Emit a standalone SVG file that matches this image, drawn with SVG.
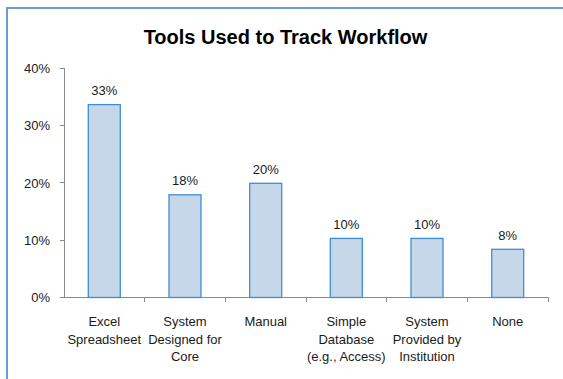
<svg xmlns="http://www.w3.org/2000/svg" width="563" height="379" viewBox="0 0 563 379">
<style>
.t{font-family:"Liberation Sans",Arial,sans-serif;font-size:13px;fill:#1a1a1a}
.title{font-family:"Liberation Sans",Arial,sans-serif;font-size:20px;font-weight:bold;fill:#000}
.bar{fill:#c5d7e9;stroke:#3c8fd4;stroke-width:1.3}
.ax{stroke:#8a8a8a;stroke-width:1;fill:none}
</style>
<rect width="563" height="379" fill="#fff"/>
<path d="M7 379 V8 H563" fill="none" stroke="#6a9cce" stroke-width="2"/>
<text class="title" x="285.5" y="43.5" text-anchor="middle">Tools Used to Track Workflow</text>
<g id="axes">
<path class="ax" d="M64.5 68 V297.5 M64 297.5 H548.5 M60 68.5 H64.5 M60 125.5 H64.5 M60 182.5 H64.5 M60 240.5 H64.5 M60 297.5 H64.5 M144.5 297.5 V302 M225.5 297.5 V302 M306.5 297.5 V302 M386.5 297.5 V302 M467.5 297.5 V302 M548.5 297.5 V302"/>
<text class="t" x="50" y="73" text-anchor="end">40%</text>
<text class="t" x="50" y="130" text-anchor="end">30%</text>
<text class="t" x="50" y="187.5" text-anchor="end">20%</text>
<text class="t" x="50" y="245" text-anchor="end">10%</text>
<text class="t" x="50" y="302" text-anchor="end">0%</text>
</g>
<g id="bar-excel">
<rect class="bar" x="88.3" y="104.6" width="32" height="192.9"/>
<text class="t" x="104.3" y="95" text-anchor="middle">33%</text>
<text class="t" x="104.3" y="326" text-anchor="middle">Excel</text>
<text class="t" x="104.3" y="343.5" text-anchor="middle">Spreadsheet</text>
</g>
<g id="bar-system-core">
<rect class="bar" x="169" y="194.8" width="32" height="102.7"/>
<text class="t" x="185" y="185" text-anchor="middle">18%</text>
<text class="t" x="185" y="326" text-anchor="middle">System</text>
<text class="t" x="185" y="343.5" text-anchor="middle">Designed for</text>
<text class="t" x="185" y="361" text-anchor="middle">Core</text>
</g>
<g id="bar-manual">
<rect class="bar" x="249.7" y="183.3" width="32" height="114.2"/>
<text class="t" x="265.7" y="173.5" text-anchor="middle">20%</text>
<text class="t" x="265.7" y="326" text-anchor="middle">Manual</text>
</g>
<g id="bar-simple-db">
<rect class="bar" x="330.3" y="238.4" width="32" height="59.1"/>
<text class="t" x="346.3" y="229" text-anchor="middle">10%</text>
<text class="t" x="346.3" y="326" text-anchor="middle">Simple</text>
<text class="t" x="346.3" y="343.5" text-anchor="middle">Database</text>
<text class="t" x="346.3" y="361" text-anchor="middle">(e.g., Access)</text>
</g>
<g id="bar-system-institution">
<rect class="bar" x="411" y="238.4" width="32" height="59.1"/>
<text class="t" x="427" y="229" text-anchor="middle">10%</text>
<text class="t" x="427" y="326" text-anchor="middle">System</text>
<text class="t" x="427" y="343.5" text-anchor="middle">Provided by</text>
<text class="t" x="427" y="361" text-anchor="middle">Institution</text>
</g>
<g id="bar-none">
<rect class="bar" x="491.7" y="249.3" width="32" height="48.2"/>
<text class="t" x="507.7" y="240" text-anchor="middle">8%</text>
<text class="t" x="507.7" y="326" text-anchor="middle">None</text>
</g>
</svg>
